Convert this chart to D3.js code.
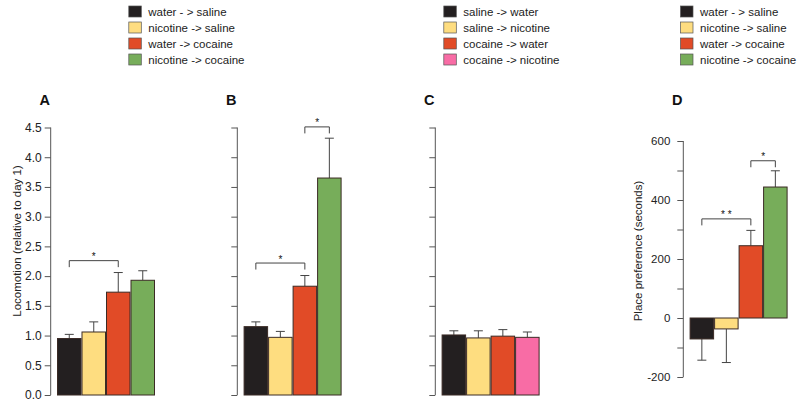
<!DOCTYPE html>
<html><head><meta charset="utf-8">
<script src="https://cdn.jsdelivr.net/npm/d3@7"></script>
<style>
body{margin:0;background:#fff;}
text{font-family:"Liberation Sans",Arial,Helvetica,sans-serif;}
</style></head>
<body><svg id="c" width="800" height="401"></svg>
<script>
// ---- data ----
const catsAB = ["water - > saline","nicotine -> saline","water -> cocaine","nicotine -> cocaine"];
const catsC  = ["saline -> water","saline -> nicotine","cocaine -> water","cocaine -> nicotine"];
const colorsAB = ["#231f20","#fedd80","#e14b27","#77ad5a"];
const colorsC  = ["#231f20","#fedd80","#e14b27","#f86ca5"];
const valuesA = [0.95, 1.06, 1.73, 1.93];
const errA    = [0.07, 0.17, 0.33, 0.16];
const valuesB = [1.15, 0.97, 1.83, 3.65];
const errB    = [0.08, 0.10, 0.18, 0.67];
const valuesC = [1.01, 0.96, 0.99, 0.97];
const errC    = [0.07, 0.12, 0.11, 0.09];
const valuesD = [-71, -37, 245, 444];
const errD    = [72, 114, 52, 55];
const ticksLoco = [0,0.5,1,1.5,2,2.5,3,3.5,4,4.5];
const ticksPlace = [-200,-100,0,100,200,300,400,500,600];
const labelsPlace = [-200,0,200,400,600];
// significance brackets: [from index, to index, level, label]
const sigA = [[0,2,2.26,"*"]];
const sigB = [[0,2,2.22,"*"],[2,3,4.51,"*"]];
const sigC = [];
const sigD = [[0,2,336,"* *"],[2,3,533,"*"]];

const svg = d3.select("#c");
const axisCol = "#555", txtCol = "#222";

const panels = [
  {letter:"A", ax:50.7, cats:catsAB, colors:colorsAB, vals:valuesA, errs:errA, sig:sigA, kind:"loco", labels:true},
  {letter:"B", ax:237.3, cats:catsAB, colors:colorsAB, vals:valuesB, errs:errB, sig:sigB, kind:"loco", labels:false},
  {letter:"C", ax:435.3, cats:catsC, colors:colorsC, vals:valuesC, errs:errC, sig:sigC, kind:"loco", labels:false},
  {letter:"D", ax:683.3, cats:catsAB, colors:colorsAB, vals:valuesD, errs:errD, sig:sigD, kind:"place", labels:true}
];

panels.forEach(p => {
  const g = svg.append("g");
  const y = p.kind === "loco"
    ? d3.scaleLinear().domain([0,4.5]).range([395,127.5])
    : d3.scaleLinear().domain([-200,600]).range([377,141]);
  const x = d3.scaleBand().domain(p.cats).range([p.ax+6.3, p.ax+6.3+98]).padding(0);

  let axis = d3.axisLeft(y).tickSize(6).tickPadding(p.kind==="loco"?3:7);
  if (p.kind === "loco") {
    axis.tickValues(ticksLoco).tickFormat(p.labels ? d3.format(".1f") : "");
  } else {
    axis.tickValues(ticksPlace).tickFormat(d => labelsPlace.includes(d) ? d : "");
  }
  const ag = g.append("g").attr("transform", `translate(${p.ax},0)`).call(axis);
  ag.select(".domain").attr("stroke", axisCol).attr("d", `M0,${y.range()[0]}V${y.range()[1]}`);
  ag.selectAll(".tick line").attr("stroke", axisCol);
  ag.selectAll(".tick text").attr("fill", txtCol).style("font-size", p.kind==="loco"?"12px":"11.5px")
    .style("font-family","'Liberation Sans',Arial,sans-serif");

  // error bars
  p.cats.forEach((c,i) => {
    const v = p.vals[i], e = p.errs[i];
    const cx = x(c) + x.bandwidth()/2;
    const tip = v >= 0 ? v + e : v - e;
    g.append("line").attr("x1",cx).attr("x2",cx).attr("y1",y(v)).attr("y2",y(tip))
      .attr("stroke","#444").attr("stroke-width",1);
    g.append("line").attr("x1",cx-4.5).attr("x2",cx+4.5).attr("y1",y(tip)).attr("y2",y(tip))
      .attr("stroke","#444").attr("stroke-width",1);
  });

  // bars
  g.selectAll("rect.bar").data(p.cats).join("rect").attr("class","bar")
    .attr("x", d => x(d)+0.5)
    .attr("width", x.bandwidth()-1)
    .attr("y", (d,i) => y(Math.max(0,p.vals[i])))
    .attr("height", (d,i) => Math.abs(y(p.vals[i]) - y(0)))
    .attr("fill", (d,i) => p.colors[i])
    .attr("stroke", "#3b2b25").attr("stroke-width", 1);

  // significance
  p.sig.forEach(([a,b,lvl,lab]) => {
    const x1 = x(p.cats[a]) + x.bandwidth()/2, x2 = x(p.cats[b]) + x.bandwidth()/2;
    const yy = y(lvl);
    g.append("path").attr("d", `M${x1},${yy+6.5}V${yy}H${x2}V${yy+6.5}`)
      .attr("fill","none").attr("stroke","#444").attr("stroke-width",1);
    g.append("text").attr("x",(x1+x2)/2).attr("y",yy-0.5).attr("text-anchor","middle")
      .style("font-size","10px").attr("fill","#111").text(lab);
  });

  // panel letter
  svg.append("text").attr("x", p.ax - 6).attr("y", 105).attr("text-anchor","middle")
    .style("font-size","14.5px").style("font-weight","bold").attr("fill","#111").text(p.letter);
});

// axis titles
svg.append("text").attr("transform","translate(20.5,241) rotate(-90)").attr("text-anchor","middle")
  .style("font-size","11.5px").attr("fill",txtCol).text("Locomotion (relative to day 1)");
svg.append("text").attr("transform","translate(642,251) rotate(-90)").attr("text-anchor","middle")
  .style("font-size","11.5px").attr("fill",txtCol).text("Place preference (seconds)");

// legends
const legends = [
  {x:128.3, cats:catsAB, colors:colorsAB},
  {x:443.3, cats:catsC, colors:colorsC},
  {x:680, cats:catsAB, colors:colorsAB}
];
legends.forEach(L => {
  const g = svg.append("g");
  L.cats.forEach((c,i) => {
    const cy = 11.5 + i*16;
    g.append("rect").attr("x",L.x+0.5).attr("y",cy-5.5).attr("width",12.5).attr("height",11)
      .attr("fill",L.colors[i]).attr("stroke","#555").attr("stroke-width",0.7);
    g.append("text").attr("x",L.x+20).attr("y",cy+4).style("font-size","11.5px")
      .attr("fill",txtCol).text(c);
  });
});
</script></body></html>
